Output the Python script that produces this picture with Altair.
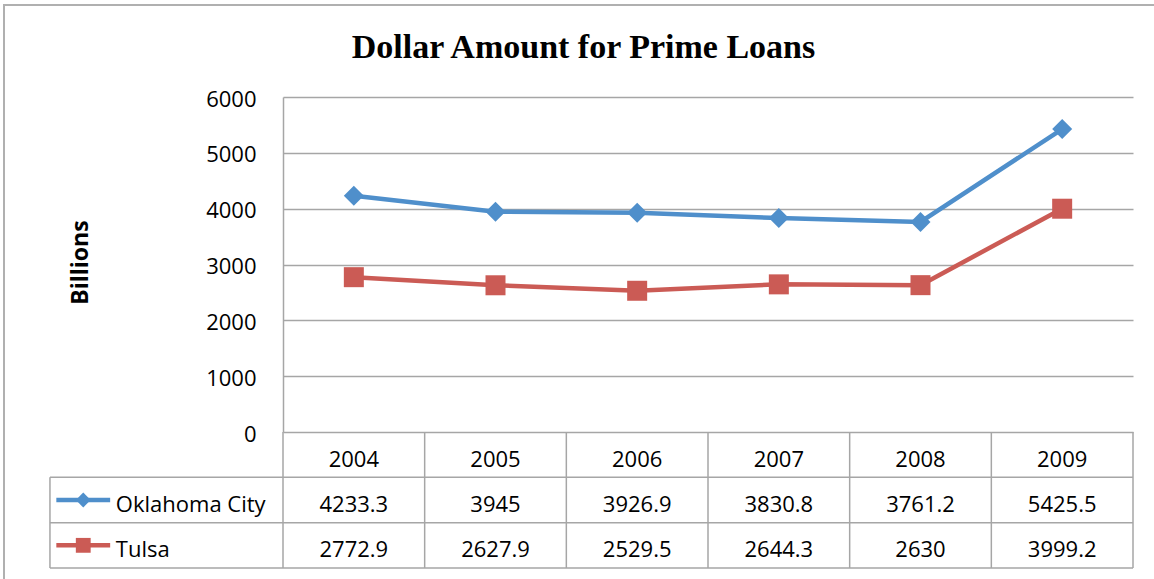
import altair as alt
import pandas as pd

# ---------------- data ----------------
years = ["2004", "2005", "2006", "2007", "2008", "2009"]
okc = [4233.3, 3945, 3926.9, 3830.8, 3761.2, 5425.5]
tulsa = [2772.9, 2627.9, 2529.5, 2644.3, 2630, 3999.2]
series = ["Oklahoma City", "Tulsa"]
y_ticks = [0, 1000, 2000, 3000, 4000, 5000, 6000]
title_text = "Dollar Amount for Prime Loans"

# ---------------- styles / layout ----------------
colors = ["#4F8FCB", "#CB5B55"]
shapes = ["diamond", "square"]
FONT = "Open Sans"
GRID = "#A6A6A6"
W, H = 850, 335
TABLE_RANGE = [335, 471]          # pixel span of the data table below the plot
TABLE_LEFT = -1.645               # legend column left edge, in column units
LEG_LINE = (-1.60, -1.22)
LEG_MARK = -1.41
LEG_TEXT = -1.18

values = {"Oklahoma City": okc, "Tulsa": tulsa}
rows = []
for r, s in enumerate(series):
    for i, (yr, v) in enumerate(zip(years, values[s])):
        rows.append(dict(series=s, year=yr, col=i + 0.5, value=v,
                         label=f"{v:g}", row=r + 1.5))
df = pd.DataFrame(rows)

df_years = pd.DataFrame({"year": years, "col": [i + 0.5 for i in range(len(years))], "row": 0.5})
df_leg = pd.DataFrame({"series": series,
                       "row": [r + 1.5 for r in range(len(series))],
                       "x1": LEG_LINE[0], "x2": LEG_LINE[1],
                       "xm": LEG_MARK, "xt": LEG_TEXT})

ncol = len(years)
nrow = len(series) + 1
vlines = pd.DataFrame(
    [dict(x=c, y1=0, y2=nrow) for c in range(ncol + 1)]
    + [dict(x=TABLE_LEFT, y1=1, y2=nrow)]
)
hlines = pd.DataFrame([dict(y=r, x1=TABLE_LEFT, x2=ncol) for r in range(1, nrow + 1)])

xs = alt.Scale(domain=[0, ncol])
ys = alt.Scale(domain=[0, 6000])
ts = alt.Scale(domain=[0, nrow], range=TABLE_RANGE)
cs = alt.Scale(domain=series, range=colors)
ss = alt.Scale(domain=series, range=shapes)

base = alt.Chart(df)

lines = base.mark_line(strokeWidth=4.5).encode(
    x=alt.X("col:Q", scale=xs, axis=None),
    y=alt.Y("value:Q", scale=ys,
            axis=alt.Axis(values=y_ticks, format="d", title="Billions", grid=True,
                          gridColor=GRID, gridWidth=1.5,
                          domain=True, domainColor=GRID, domainWidth=1.5,
                          ticks=False, labelFont=FONT, labelFontSize=22,
                          labelColor="#000", labelPadding=27, labelOffset=2,
                          titleFont=FONT, titleFontSize=23, titleFontWeight="bold",
                          titleColor="#000", titleAngle=-90, titleX=-203, titleY=165,
                          titleAlign="center", titleBaseline="middle")),
    color=alt.Color("series:N", scale=cs, legend=None),
    detail="series:N",
)

points = base.mark_point(filled=True, size=400, opacity=1).encode(
    x=alt.X("col:Q", scale=xs, axis=None),
    y=alt.Y("value:Q", scale=ys, axis=None),
    color=alt.Color("series:N", scale=cs, legend=None),
    shape=alt.Shape("series:N", scale=ss, legend=None),
)

vrules = alt.Chart(vlines).mark_rule(color=GRID, strokeWidth=1.5).encode(
    x=alt.X("x:Q", scale=xs, axis=None),
    y=alt.Y("y1:Q", scale=ts, axis=None),
    y2="y2:Q",
)
hrules = alt.Chart(hlines).mark_rule(color=GRID, strokeWidth=1.5).encode(
    x=alt.X("x1:Q", scale=xs, axis=None),
    x2="x2:Q",
    y=alt.Y("y:Q", scale=ts, axis=None),
)

year_text = alt.Chart(df_years).mark_text(font=FONT, fontSize=22, color="#000",
                                          align="center", baseline="middle", dy=5).encode(
    x=alt.X("col:Q", scale=xs, axis=None),
    y=alt.Y("row:Q", scale=ts, axis=None),
    text="year:N",
)
val_text = alt.Chart(df).mark_text(font=FONT, fontSize=22, color="#000",
                                   align="center", baseline="middle", dy=5).encode(
    x=alt.X("col:Q", scale=xs, axis=None),
    y=alt.Y("row:Q", scale=ts, axis=None),
    text="label:N",
)

leg_line = alt.Chart(df_leg).mark_rule(strokeWidth=4.5).encode(
    x=alt.X("x1:Q", scale=xs, axis=None),
    x2="x2:Q",
    y=alt.Y("row:Q", scale=ts, axis=None),
    color=alt.Color("series:N", scale=cs, legend=None),
)
leg_mark = alt.Chart(df_leg).mark_point(filled=True, size=220, opacity=1).encode(
    x=alt.X("xm:Q", scale=xs, axis=None),
    y=alt.Y("row:Q", scale=ts, axis=None),
    color=alt.Color("series:N", scale=cs, legend=None),
    shape=alt.Shape("series:N", scale=ss, legend=None),
)
leg_text = alt.Chart(df_leg).mark_text(font=FONT, fontSize=22, color="#000",
                                       align="left", baseline="middle", dy=5).encode(
    x=alt.X("xt:Q", scale=xs, axis=None),
    y=alt.Y("row:Q", scale=ts, axis=None),
    text="series:N",
)

title = alt.Chart(pd.DataFrame({"t": [title_text]})).mark_text(
    font="Liberation Serif", fontSize=34, fontWeight="bold", color="#000",
    align="center", baseline="alphabetic").encode(
    x=alt.value(300.5), y=alt.value(-39), text="t:N")

frame = alt.Chart(pd.DataFrame({"k": [0]})).mark_rect(
    fill=None, stroke="#B0B0B0", strokeWidth=2).encode(
    x=alt.value(-279), x2=alt.value(900), y=alt.value(-92), y2=alt.value(500))

chart = alt.layer(
    frame, title, lines, vrules, hrules, year_text, val_text,
    leg_line, leg_mark, leg_text, points,
).resolve_scale(y="independent").properties(
    width=W, height=H,
    autosize=alt.AutoSizeParams(type="none"),
    padding={"left": 283, "top": 97, "right": 21, "bottom": 147},
    background="white",
).configure_view(stroke=None)

chart.save("out.html", embed_options={"renderer": "svg", "actions": False})
